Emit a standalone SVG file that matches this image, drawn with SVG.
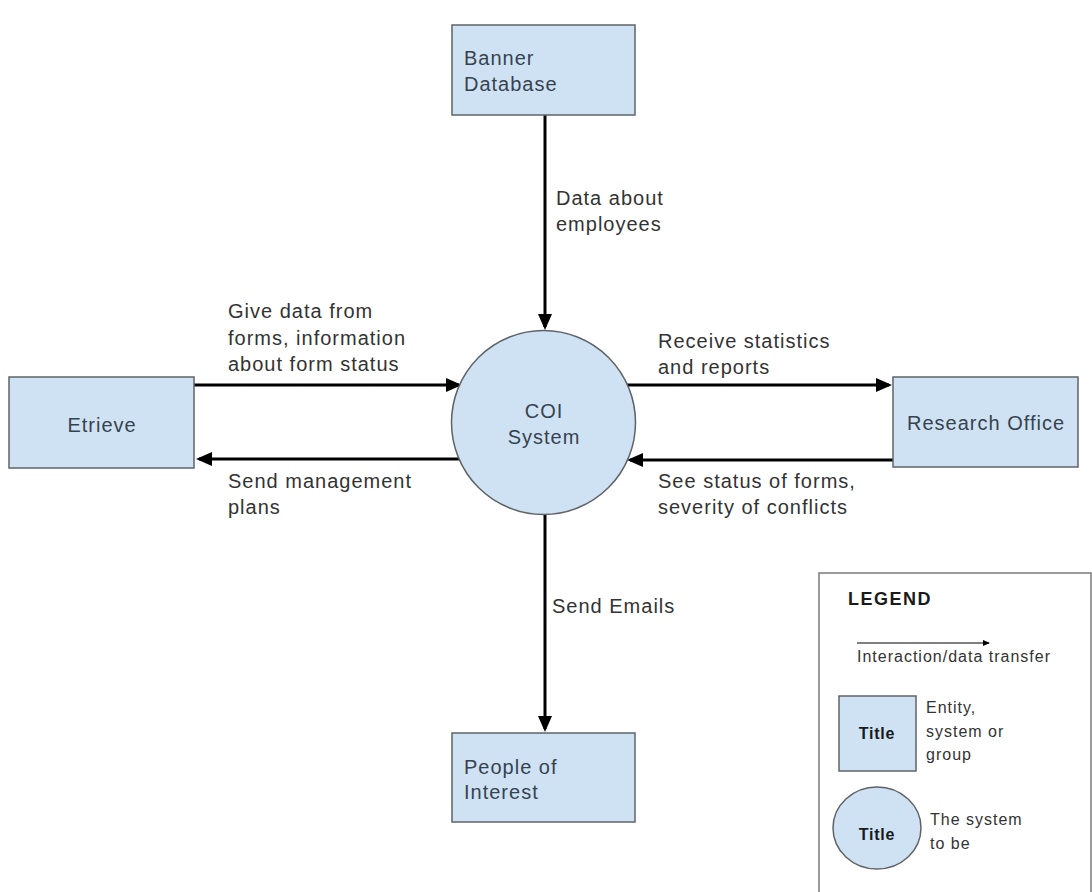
<svg xmlns="http://www.w3.org/2000/svg" width="1092" height="892" viewBox="0 0 1092 892">
<style>
.box{fill:#cfe2f3;stroke:#5f6368;stroke-width:1.5}
.t{font-family:"Liberation Sans",Arial,sans-serif;font-size:20px;letter-spacing:1px;fill:#333}
.bt{font-family:"Liberation Sans",Arial,sans-serif;font-size:20px;letter-spacing:1px;fill:#37424f}
.c{text-anchor:middle}
.ln{stroke:#000;stroke-width:3;fill:none;marker-end:url(#ah)}
.lg{font-family:"Liberation Sans",Arial,sans-serif;font-size:16px;letter-spacing:1px;fill:#333}
.lb{font-family:"Liberation Sans",Arial,sans-serif;font-weight:bold;fill:#1a1a1a}
</style>
<defs>
<marker id="ah" markerUnits="userSpaceOnUse" markerWidth="16" markerHeight="14" viewBox="0 0 16 14" refX="13" refY="7" orient="auto">
<path d="M0,0 L16,7 L0,14 z" fill="#000"/>
</marker>
<marker id="ahs" markerUnits="userSpaceOnUse" markerWidth="7" markerHeight="6" viewBox="0 0 7 6" refX="6" refY="3" orient="auto">
<path d="M0,0 L7,3 L0,6 z" fill="#000"/>
</marker>
</defs>
<rect width="1092" height="892" fill="#fff"/>

<g id="connectors">
<line class="ln" x1="545" y1="115" x2="545" y2="327"/>
<line class="ln" x1="194" y1="385" x2="459" y2="385"/>
<line class="ln" x1="463" y1="459" x2="199" y2="459"/>
<line class="ln" x1="626" y1="385" x2="889" y2="385"/>
<line class="ln" x1="893" y1="460" x2="630" y2="460"/>
<line class="ln" x1="545" y1="515" x2="545" y2="729"/>
<text class="t" x="556" y="205">Data about</text>
<text class="t" x="556" y="231">employees</text>
<text class="t" x="228" y="318">Give data from</text>
<text class="t" x="228" y="345">forms, information</text>
<text class="t" x="228" y="371">about form status</text>
<text class="t" x="228" y="488">Send management</text>
<text class="t" x="228" y="514">plans</text>
<text class="t" x="658" y="348">Receive statistics</text>
<text class="t" x="658" y="374">and reports</text>
<text class="t" x="658" y="488">See status of forms,</text>
<text class="t" x="658" y="514">severity of conflicts</text>
<text class="t" x="552" y="613">Send Emails</text>
</g>

<g id="banner">
<rect class="box" x="452" y="25" width="183" height="90"/>
<text class="bt" x="464" y="65">Banner</text>
<text class="bt" x="464" y="91">Database</text>
</g>

<g id="etrieve">
<rect class="box" x="9" y="377" width="185" height="91"/>
<text class="bt c" x="102" y="432">Etrieve</text>
</g>

<g id="coi">
<circle class="box" cx="543.5" cy="422.5" r="92"/>
<text class="bt c" x="544" y="418">COI</text>
<text class="bt c" x="544" y="444">System</text>
</g>

<g id="research">
<rect class="box" x="893" y="377" width="185" height="90"/>
<text class="bt c" x="986" y="430">Research Office</text>
</g>

<g id="people">
<rect class="box" x="452" y="733" width="183" height="89"/>
<text class="bt" x="464" y="774">People of</text>
<text class="bt" x="464" y="799">Interest</text>
</g>

<g id="legend">
<rect x="819" y="573" width="272" height="330" fill="#fff" stroke="#7a7a7a" stroke-width="1.5"/>
<text class="lb" x="848" y="605" font-size="18" letter-spacing="1.5">LEGEND</text>
<line x1="857" y1="643" x2="989" y2="643" stroke="#000" stroke-width="1" marker-end="url(#ahs)"/>
<text class="lg" x="857" y="662">Interaction/data transfer</text>
<rect class="box" x="839" y="696" width="77" height="75"/>
<text class="lb c" x="877" y="739" font-size="16" letter-spacing="0.8">Title</text>
<text class="lg" x="926" y="713">Entity,</text>
<text class="lg" x="926" y="737">system or</text>
<text class="lg" x="926" y="760">group</text>
<ellipse class="box" cx="877" cy="828" rx="44" ry="41"/>
<text class="lb c" x="877" y="840" font-size="16" letter-spacing="0.8">Title</text>
<text class="lg" x="930" y="825">The system</text>
<text class="lg" x="930" y="849">to be</text>
</g>
</svg>
